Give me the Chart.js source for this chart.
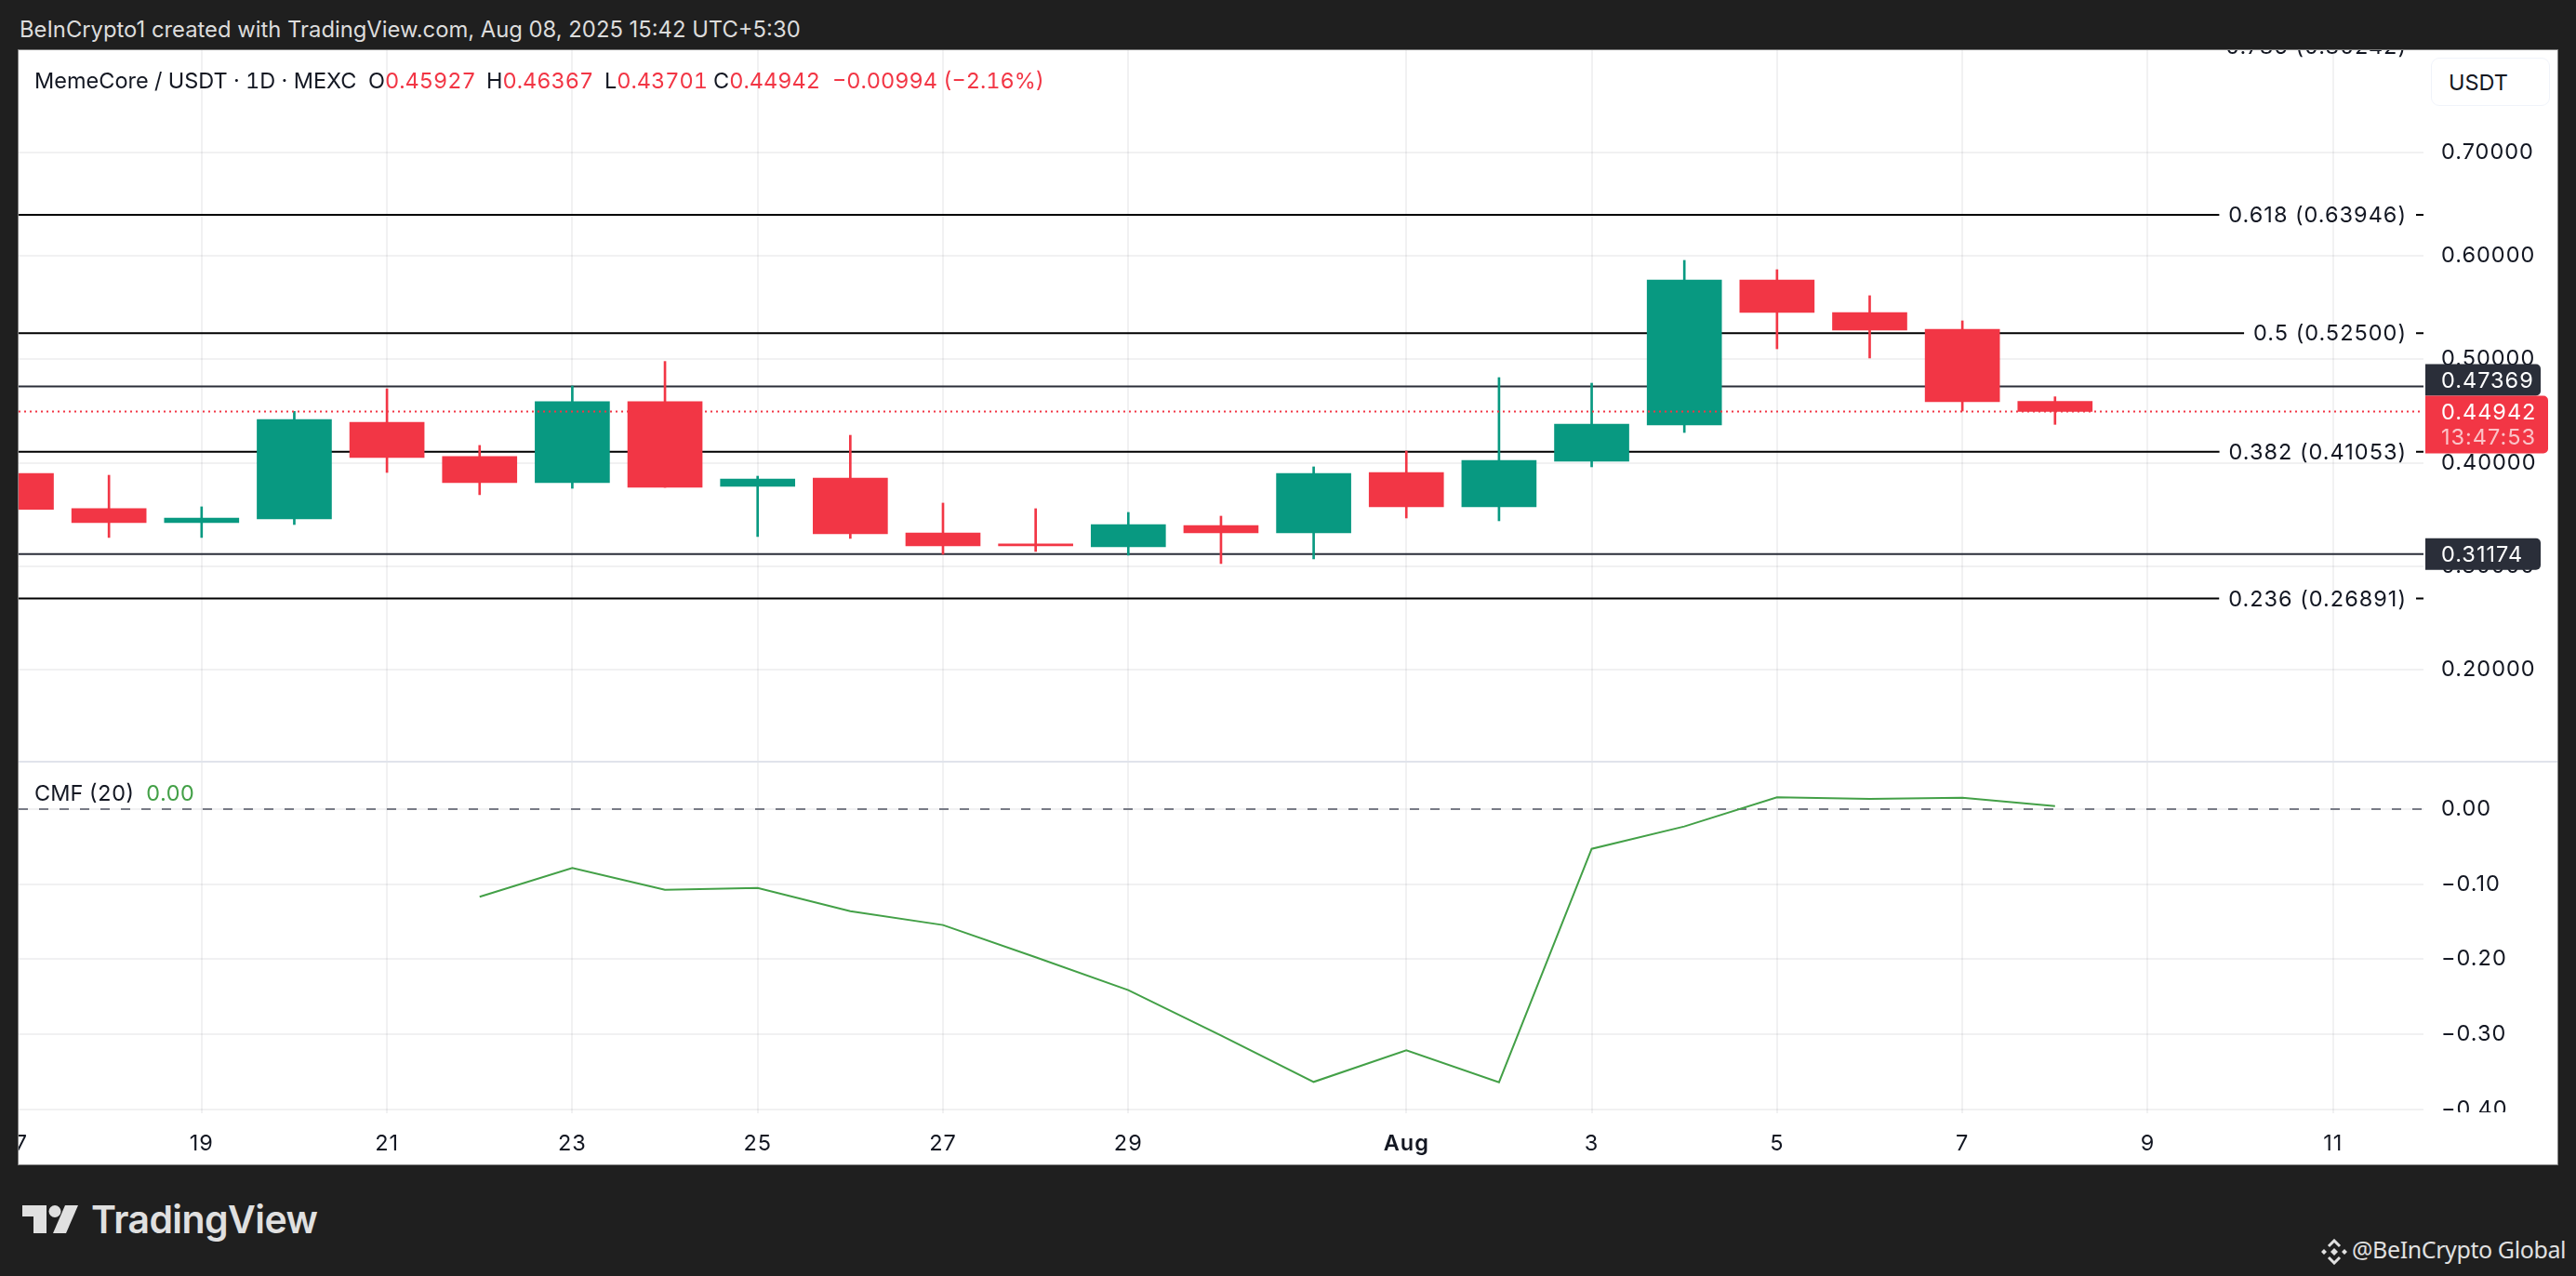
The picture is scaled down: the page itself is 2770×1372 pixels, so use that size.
<!DOCTYPE html>
<html>
<head>
<meta charset="utf-8">
<script src="https://cdn.jsdelivr.net/npm/chart.js@4/dist/chart.umd.min.js"></script>
<style>
    html, body { margin: 0; padding: 0; background: #1f1f1f; }
    body { width: 2770px; height: 1372px; position: relative; overflow: hidden; font-family: Inter, sans-serif; }
    .abs { position: absolute; white-space: pre; line-height: 1; }
    #panel { position: absolute; left: 20px; top: 54px; width: 2730px; height: 1198px; background: #fff; box-shadow: 0 0 0 1px #808080; overflow: hidden; }
    #priceBox { position: absolute; left: 0; top: 0; width: 2730px; height: 765px; }
    #cmfBox { position: absolute; left: 0; top: 765px; width: 2730px; height: 433px; }
    #paneLine { position: absolute; left: 0; top: 764px; width: 2730px; height: 2px; background: #e0e3eb; }
    #usdtBtn { position: absolute; left: 2594px; top: 8px; width: 126px; height: 50px; border: 1px solid #f0f3fa; border-radius: 9px; background: #fff; }
    .legend { font-size: 23.5px; color: #131722; font-variant-numeric: tabular-nums; }
    .red, .legend.red { color: #f23645; }
</style>
</head>
<body>
<div class="abs" id="header" style="left:21px;top:20px;font-size:23.8px;color:#dcdcdc">BeInCrypto1 created with TradingView.com, Aug 08, 2025 15:42 UTC+5:30</div>

<div id="panel">
    <div id="priceBox"><canvas id="priceChart"></canvas></div>
    <div id="cmfBox"><canvas id="cmfChart"></canvas></div>
    <div id="paneLine"></div>
    <div id="usdtBtn"></div>
    <div class="abs legend" style="left:2613px;top:23px">USDT</div>
    <div class="abs legend" style="left:17px;top:21px">MemeCore / USDT · 1D · MEXC</div>
    <div class="abs legend" style="left:376px;top:21px">O<span class="red">0.45927</span></div>
    <div class="abs legend" style="left:503px;top:21px">H<span class="red">0.46367</span></div>
    <div class="abs legend" style="left:630px;top:21px">L<span class="red">0.43701</span></div>
    <div class="abs legend" style="left:747px;top:21px">C<span class="red">0.44942</span></div>
    <div class="abs legend red" style="left:875px;top:21px">−0.00994 (−2.16%)</div>
    <div class="abs legend" style="left:17px;top:787px">CMF (20)</div>
    <div class="abs legend" style="left:137px;top:787px;color:#43a047">0.00</div>
</div>

<svg class="abs" style="left:24px;top:1296px" width="62" height="32" viewBox="0 0 62 32">
    <path fill="#e0e0e0" d="M0 0H26V30H12V12H0Z"/>
    <circle fill="#e0e0e0" cx="35" cy="6.5" r="6.5"/>
    <path fill="#e0e0e0" d="M46 0H60L47 30H33Z"/>
</svg>
<div class="abs" style="left:98px;top:1291px;font-size:41px;font-weight:600;color:#e0e0e0;letter-spacing:-0.6px">TradingView</div>

<svg class="abs" style="left:2496px;top:1332px" width="28" height="28" viewBox="0 0 28 28">
    <path fill="none" stroke="#e0e0e0" stroke-width="3" d="M8 8L14 2L20 8M8 20L14 26L20 20"/>
    <path fill="#e0e0e0" d="M14 10L18 14L14 18L10 14ZM3 11L6 14L3 17L0 14ZM25 11L28 14L25 17L22 14Z"/>
</svg>
<div class="abs" style="left:2529px;top:1331px;font-family:'Noto Sans',sans-serif;font-size:25px;letter-spacing:-0.4px;color:#e0e0e0">@BeInCrypto Global</div>

<script>
// daily candles
const candleDates = ['Jul 17', 'Jul 18', 'Jul 19', 'Jul 20', 'Jul 21', 'Jul 22', 'Jul 23', 'Jul 24', 'Jul 25', 'Jul 26', 'Jul 27', 'Jul 28', 'Jul 29', 'Jul 30', 'Jul 31', 'Aug 1', 'Aug 2', 'Aug 3', 'Aug 4', 'Aug 5', 'Aug 6', 'Aug 7', 'Aug 8'];
const opens = [0.3897, 0.3556, 0.3421, 0.3457, 0.4391, 0.4059, 0.3807, 0.4589, 0.3771, 0.3852, 0.3322, 0.3215, 0.3188, 0.3394, 0.3322, 0.3906, 0.3574, 0.4014, 0.4364, 0.5765, 0.5451, 0.5289, 0.45927];
const closes = [0.3550, 0.3421, 0.3466, 0.4418, 0.4050, 0.3807, 0.4589, 0.3762, 0.3843, 0.3313, 0.3197, 0.3197, 0.3403, 0.3322, 0.3897, 0.3574, 0.4023, 0.4373, 0.5765, 0.5451, 0.5280, 0.4589, 0.44942];
const highs = [0.3897, 0.3879, 0.3574, 0.4496, 0.4714, 0.4167, 0.4741, 0.4978, 0.3870, 0.4265, 0.3610, 0.3556, 0.3520, 0.3484, 0.3960, 0.4113, 0.4822, 0.4768, 0.5954, 0.5864, 0.5613, 0.5370, 0.46367];
const lows = [0.3550, 0.3278, 0.3278, 0.3403, 0.3906, 0.3691, 0.3753, 0.3762, 0.3287, 0.3269, 0.3116, 0.3143, 0.3107, 0.3026, 0.3071, 0.3466, 0.3439, 0.3960, 0.4292, 0.5100, 0.5011, 0.4499, 0.43701];

// CMF values start on Jul 22
const cmfDates = ['Jul 22', 'Jul 23', 'Jul 24', 'Jul 25', 'Jul 26', 'Jul 27', 'Jul 28', 'Jul 29', 'Jul 30', 'Jul 31', 'Aug 1', 'Aug 2', 'Aug 3', 'Aug 4', 'Aug 5', 'Aug 6', 'Aug 7', 'Aug 8'];
const cmfValues = [-0.1169, -0.0785, -0.1074, -0.1050, -0.1360, -0.1545, -0.1975, -0.2413, -0.3017, -0.3636, -0.3215, -0.3640, -0.0529, -0.0231, 0.0157, 0.0136, 0.0153, 0.0041];

const fibRatios = ['0.786', '0.618', '0.5', '0.382', '0.236'];
const fibLevels = [0.80242, 0.63946, 0.525, 0.41053, 0.26891];
const supportLevels = [0.47369, 0.31174];
const lastClose = 0.44942;
const countdown = '13:47:53';

const priceTicks = [0.7, 0.6, 0.5, 0.4, 0.3, 0.2];
const cmfTicks = [0, -0.1, -0.2, -0.3, -0.4];
const timeTickDays = [0, 2, 4, 6, 8, 10, 12, 15, 17, 19, 21, 23, 25];
const timeTickLabels = ['17', '19', '21', '23', '25', '27', '29', 'Aug', '3', '5', '7', '9', '11'];

const X_MIN = 0.0251;
const X_MAX = 25.976;
const PLOT_W = 2586;
const AXIS_W = 144;
const CMF_PLOT_H = 374;
const FONT_SIZE = 23.5;
const FONT = FONT_SIZE + 'px Inter';
const SPACING = '1px';
const GRID = 'rgba(42,46,57,0.065)';
const UP = '#089981';
const DOWN = '#f23645';
const DARK = '#2a2e39';

const dayOf = (date) => candleDates.indexOf(date);
const candleColors = opens.map((o, i) => closes[i] >= o ? UP : DOWN);

// fib lines stop before their text and come back for the little dash at the axis
const measureCtx = document.createElement('canvas').getContext('2d');
measureCtx.font = FONT;
measureCtx.letterSpacing = SPACING;
const pxPerDay = PLOT_W / (X_MAX - X_MIN);
const fibLabelRight = 2568;
function fibLabel(i) {
    return fibRatios[i] + ' (' + fibLevels[i].toFixed(5) + ')';
}
function fibLineData(i) {
    const gapStart = fibLabelRight - measureCtx.measureText(fibLabel(i)).width - 10;
    const gapEnd = PLOT_W - 8;
    const a = X_MIN + gapStart / pxPerDay;
    const b = X_MIN + gapEnd / pxPerDay;
    const y = fibLevels[i];
    return [{ x: X_MIN, y }, { x: a, y }, { x: a, y: null }, { x: b, y }, { x: X_MAX, y }];
}

function flatLine(value, color, width, dash, order) {
    return {
        type: 'line',
        data: [{ x: X_MIN, y: value }, { x: X_MAX, y: value }],
        borderColor: color,
        borderWidth: width,
        borderDash: dash || [],
        pointRadius: 0,
        order: order
    };
}

function timeAxis(axisHeight) {
    const showLabels = axisHeight > 0;
    return {
        type: 'linear',
        min: X_MIN,
        max: X_MAX,
        offset: false,
        bounds: 'data',
        afterBuildTicks: (scale) => { scale.ticks = timeTickDays.map((value) => ({ value })); },
        afterFit: (scale) => {
            scale.paddingLeft = 0;
            scale.paddingRight = 0;
            scale.height = axisHeight;
        },
        border: { display: false },
        grid: { color: GRID, lineWidth: 2, offset: false, drawTicks: showLabels, tickLength: 4 },
        ticks: {
            display: showLabels,
            autoSkip: false,
            maxRotation: 0,
            minRotation: 0,
            padding: 19,
            color: '#131722',
            font: (ctx) => ({ family: 'Inter', size: FONT_SIZE, weight: ctx.tick && ctx.tick.label === 'Aug' ? '600' : '400' }),
            callback: (value, index) => timeTickLabels[index]
        }
    };
}

function valueAxis(min, max, tickValues, format) {
    return {
        position: 'right',
        min,
        max,
        bounds: 'data',
        afterBuildTicks: (scale) => { scale.ticks = tickValues.map((value) => ({ value })); },
        afterFit: (scale) => {
            scale.width = AXIS_W;
            scale.paddingTop = 0;
            scale.paddingBottom = 0;
        },
        border: { display: false },
        grid: { color: GRID, lineWidth: 2, drawTicks: false },
        ticks: {
            padding: 19,
            color: '#131722',
            font: { family: 'Inter', size: FONT_SIZE },
            callback: format
        }
    };
}

function badge(ctx, x, y, w, h, color) {
    ctx.fillStyle = color;
    ctx.beginPath();
    ctx.roundRect(x, y, w, h, [0, 5, 5, 0]);
    ctx.fill();
}

// axis text in the reference runs a little wider than plain Inter
const spacedText = {
    id: 'spacedText',
    beforeDraw(chart) { chart.ctx.letterSpacing = SPACING; }
};

const priceOverlay = {
    id: 'priceOverlay',
    afterDraw(chart) {
        const { ctx } = chart;
        const yScale = chart.scales.y;
        const textX = PLOT_W + 19;
        ctx.save();
        ctx.font = FONT;
        ctx.textBaseline = 'middle';

        ctx.fillStyle = '#131722';
        ctx.textAlign = 'right';
        fibLevels.forEach((level, i) => {
            ctx.fillText(fibLabel(i), fibLabelRight, yScale.getPixelForValue(level) + 1);
        });

        ctx.textAlign = 'left';
        const lastY = yScale.getPixelForValue(lastClose);

        // the upper support tag is pushed up so it sits on the price tag
        badge(ctx, PLOT_W + 2, lastY - 51, 124, 34, DARK);
        ctx.fillStyle = '#fff';
        ctx.fillText(supportLevels[0].toFixed(5), textX, lastY - 33);

        const lowY = yScale.getPixelForValue(supportLevels[1]);
        badge(ctx, PLOT_W + 2, lowY - 17, 124, 34, DARK);
        ctx.fillStyle = '#fff';
        ctx.fillText(supportLevels[1].toFixed(5), textX, lowY + 1);

        badge(ctx, PLOT_W + 2, lastY - 17, 132, 62, DOWN);
        ctx.fillStyle = '#fff';
        ctx.fillText(lastClose.toFixed(5), textX, lastY + 1);
        ctx.fillStyle = '#fbc3c8';
        ctx.fillText(countdown, textX, lastY + 28);
        ctx.restore();
    }
};

// the lowest CMF label is cut by the bottom of its pane
const cmfAxisCut = {
    id: 'cmfAxisCut',
    afterDraw(chart) {
        const { ctx, chartArea } = chart;
        ctx.save();
        ctx.fillStyle = '#fff';
        ctx.fillRect(PLOT_W, chartArea.bottom + 3, AXIS_W, 60);
        ctx.restore();
    }
};

const baseOptions = {
    responsive: true,
    maintainAspectRatio: false,
    devicePixelRatio: 1,
    animation: false,
    layout: { padding: 0 },
    plugins: { legend: { display: false }, tooltip: { enabled: false } }
};

new Chart(document.getElementById('priceChart'), {
    type: 'bar',
    data: {
        datasets: [
            ...fibLevels.map((level, i) => ({
                type: 'line',
                data: fibLineData(i),
                borderColor: '#000',
                borderWidth: 2,
                pointRadius: 0,
                spanGaps: false,
                order: 5
            })),
            ...supportLevels.map((level) => flatLine(level, DARK, 2, null, 5)),
            {
                data: candleDates.map((d, i) => ({ x: i, y: [lows[i], highs[i]] })),
                backgroundColor: candleColors,
                barThickness: 2,
                grouped: false,
                order: 3
            },
            {
                data: candleDates.map((d, i) => ({ x: i, y: [opens[i], closes[i]] })),
                backgroundColor: candleColors,
                barThickness: 80,
                grouped: false,
                order: 2
            },
            flatLine(lastClose, DOWN, 2, [2, 4], 1)
        ]
    },
    options: {
        ...baseOptions,
        scales: {
            x: timeAxis(0),
            y: valueAxis(0.11126, 0.79835, priceTicks, (v) => v.toFixed(5))
        }
    },
    plugins: [spacedText, priceOverlay]
});

new Chart(document.getElementById('cmfChart'), {
    type: 'line',
    data: {
        datasets: [
            flatLine(0, '#787b86', 2, [10, 12], 2),
            {
                data: cmfDates.map((d, i) => ({ x: dayOf(d), y: cmfValues[i] })),
                borderColor: '#43a047',
                borderWidth: 2,
                pointRadius: 0,
                tension: 0,
                order: 1
            }
        ]
    },
    options: {
        ...baseOptions,
        scales: {
            x: timeAxis(433 - CMF_PLOT_H),
            y: valueAxis(-0.4004, 0.0632, cmfTicks, (v) => v === 0 ? '0.00' : '−' + Math.abs(v).toFixed(2))
        }
    },
    plugins: [spacedText, cmfAxisCut]
});
</script>
</body>
</html>
